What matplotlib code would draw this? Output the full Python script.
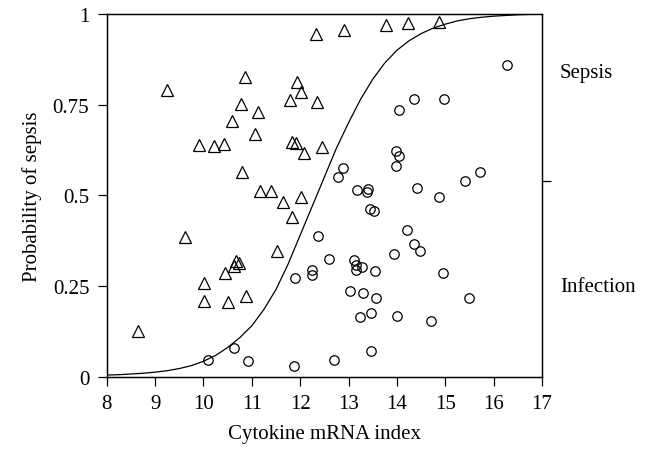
import matplotlib
matplotlib.use('Agg')
import matplotlib.pyplot as plt

# Sepsis patients (triangles)
sepsis_x = [9.24, 10.86, 10.78, 11.12, 10.59, 11.07, 9.90, 10.21, 10.43, 10.79,
            11.16, 11.39, 11.94, 12.01, 11.79, 11.84, 11.91, 12.07, 11.64, 12.01,
            11.83, 9.61, 11.53, 10.63, 10.68, 10.73, 10.45, 10.01, 10.01, 10.50,
            10.88, 8.64, 12.33, 12.91, 13.78, 14.22, 14.87, 12.34, 12.46]
sepsis_y = [0.791, 0.825, 0.752, 0.729, 0.706, 0.669, 0.639, 0.635, 0.641, 0.563,
            0.513, 0.511, 0.812, 0.784, 0.764, 0.646, 0.645, 0.617, 0.481, 0.494,
            0.439, 0.386, 0.345, 0.305, 0.318, 0.312, 0.286, 0.257, 0.209, 0.205,
            0.221, 0.126, 0.945, 0.957, 0.970, 0.975, 0.979, 0.756, 0.634]

# Infection patients (circles)
infection_x = [10.10, 10.63, 10.93, 11.88, 11.90, 16.28, 14.36, 14.98, 14.05, 13.99,
               14.05, 13.99, 12.88, 12.79, 15.72, 15.41, 13.17, 13.41, 13.38, 14.41,
               14.87, 13.45, 13.52, 12.37, 14.21, 14.36, 14.48, 13.94, 14.96, 15.50,
               12.59, 12.24, 12.24, 13.12, 13.15, 13.28, 13.16, 13.54, 13.02, 13.30,
               13.57, 13.46, 13.24, 14.01, 14.70, 13.46, 12.70]
infection_y = [0.046, 0.078, 0.044, 0.030, 0.271, 0.860, 0.766, 0.766, 0.735, 0.623,
               0.607, 0.580, 0.574, 0.551, 0.563, 0.539, 0.514, 0.517, 0.508, 0.519,
               0.494, 0.462, 0.456, 0.388, 0.405, 0.366, 0.345, 0.338, 0.286, 0.217,
               0.324, 0.295, 0.280, 0.321, 0.308, 0.301, 0.295, 0.292, 0.236, 0.231,
               0.216, 0.175, 0.163, 0.167, 0.154, 0.071, 0.046]

# Fitted probability curve, every 0.25
curve_x = [8, 8.25, 8.5, 8.75, 9, 9.25, 9.5, 9.75, 10, 10.25, 10.5, 10.75,
           11, 11.25, 11.5, 11.75, 12, 12.25, 12.5, 12.75, 13, 13.25, 13.5,
           13.75, 14, 14.25, 14.5, 14.75, 15, 15.25, 15.5, 15.75, 16, 16.25,
           16.5, 16.75, 17]
curve_y = [0.004, 0.005, 0.007, 0.009, 0.012, 0.016, 0.022, 0.030, 0.042,
           0.058, 0.080, 0.107, 0.140, 0.185, 0.240, 0.310, 0.390, 0.470,
           0.550, 0.630, 0.700, 0.765, 0.820, 0.865, 0.900, 0.926, 0.946,
           0.961, 0.972, 0.981, 0.987, 0.991, 0.994, 0.996, 0.998, 0.999, 1.0]

x_ticks = [8, 9, 10, 11, 12, 13, 14, 15, 16, 17]
y_ticks = [0, 0.25, 0.5, 0.75, 1]
y_tick_labels = ['0', '0.25', '0.5', '0.75', '1']
cutoff = 0.54

plt.rcParams['font.family'] = ['Liberation Serif', 'DejaVu Serif']
fs = 15

fig = plt.figure(figsize=(6.48, 4.52), dpi=100)
ax = fig.add_axes([0.1647, 0.1648, 0.6717, 0.802])

ax.plot(curve_x, curve_y, color='black', lw=0.9, zorder=2)
ax.plot(sepsis_x, sepsis_y, linestyle='none', marker='^', markersize=8.5,
        mfc='none', mec='black', mew=0.9, zorder=3)
ax.plot(infection_x, infection_y, linestyle='none', marker='o', markersize=6.8,
        mfc='none', mec='black', mew=0.9, zorder=3)

ax.set_xlim(8, 17)
ax.set_ylim(0, 1)
ax.set_xticks(x_ticks)
ax.set_yticks(y_ticks)
ax.set_yticklabels(y_tick_labels)
ax.tick_params(direction='out', length=6.5, width=0.9, labelsize=fs, pad=6)
for s in ax.spines.values():
    s.set_linewidth(1.0)

ax.set_xlabel('Cytokine mRNA index', fontsize=fs, labelpad=8)
ax.set_ylabel('Probability of sepsis', fontsize=fs, labelpad=8)

# single cutoff tick on the right side
ax2 = ax.twinx()
ax2.set_ylim(0, 1)
ax2.set_yticks([cutoff])
ax2.set_yticklabels([''])
ax2.tick_params(direction='out', length=6.5, width=0.9)

tr = ax.get_yaxis_transform()
ax.text(1.041, 0.84, 'Sepsis', transform=tr, fontsize=fs, va='center', ha='left')
ax.text(1.041, 0.247, 'Infection', transform=tr, fontsize=fs, va='center', ha='left')

fig.savefig('out.png', dpi=100)
